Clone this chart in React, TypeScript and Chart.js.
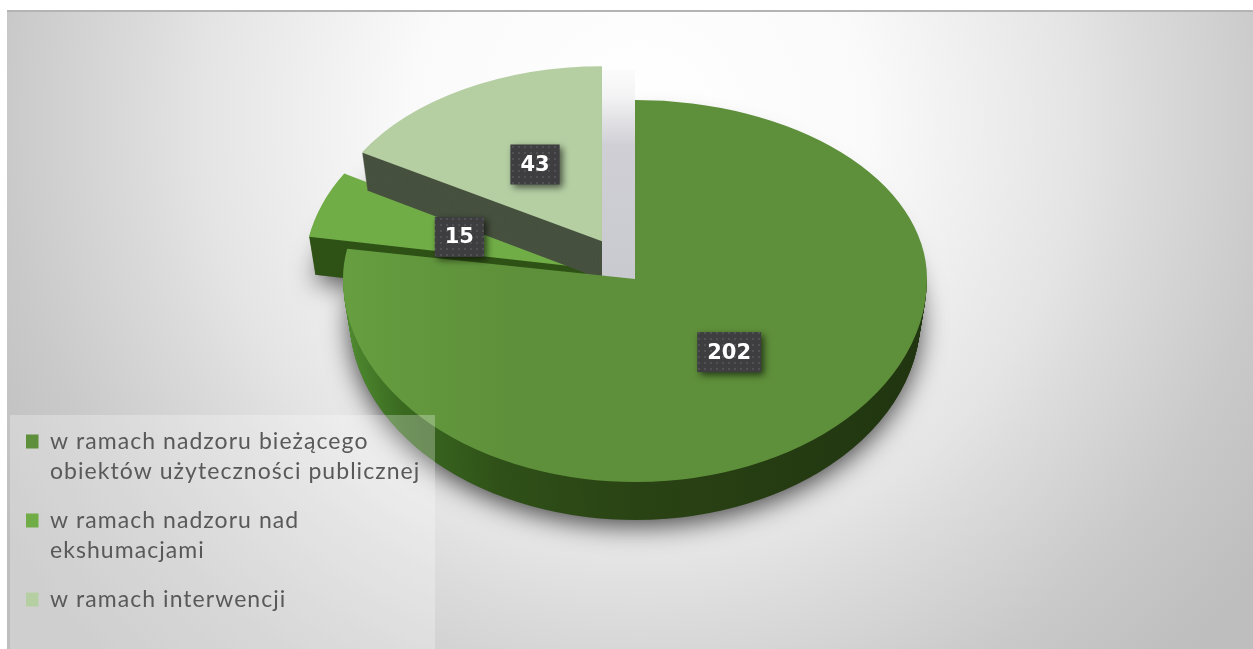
import React, { useEffect, useRef } from "react";
import { Chart, registerables } from "chart.js";

Chart.register(...registerables);

const categories = [
  ["w ramach nadzoru bieżącego", "obiektów użyteczności publicznej"],
  ["w ramach nadzoru nad", "ekshumacjami"],
  ["w ramach interwencji"],
];
const values = [202, 15, 43];
const topColors = ["#5e8f3a", "#70ad47", "#b5cfa3"];
const explode = [0, 48, 66.48];
const perspectiveX = [1, 0.976, 0.954];
const perspectiveY = [1, 0.976, 0.915];
const labelFraction = [0.5, 0.476, 0.462];
const paintOrder = [1, 2, 0];

const TILT = 0.655;
const KY_UP = 179 / 292;
const KY_LOW = 203 / 292;
const DEPTH = 38;
const SHRINK = 0.022;
const CX = 635;
const CY = 279;

function applySliceTransform(ctx: any, el: any, i: number, dy: number, ky: number) {
  const mid = (el.startAngle + el.endAngle) / 2;
  const vx = el.x + Math.cos(mid) * explode[i];
  const vy = el.y + Math.sin(mid) * explode[i];
  const sx = perspectiveX[i] * (1 - (SHRINK * dy) / DEPTH);
  ctx.translate(0, dy);
  ctx.translate(el.x, el.y);
  ctx.scale(1, ky);
  ctx.translate(-el.x, -el.y);
  ctx.translate(vx, vy);
  ctx.scale(sx, perspectiveY[i]);
  ctx.translate(-el.x, -el.y);
}

function wallStyle(ctx: any, i: number) {
  if (i === 1) return "#2f5216";
  if (i === 2) return "#47513f";
  const g = ctx.createLinearGradient(343, 0, 927, 0);
  g.addColorStop(0, "#4f8a30");
  g.addColorStop(0.1, "#3a6a20");
  g.addColorStop(0.27, "#2f5018");
  g.addColorStop(0.5, "#2a4314");
  g.addColorStop(1, "#203510");
  return g;
}

function drawSlice(ctx: any, el: any, i: number, dy: number) {
  if (i !== 0) {
    ctx.save();
    applySliceTransform(ctx, el, i, dy, TILT);
    el.draw(ctx);
    ctx.restore();
    return;
  }
  const seam = el.y + dy;
  if (dy === 0) {
    ctx.save();
    ctx.beginPath();
    ctx.rect(0, 0, 1253, seam);
    ctx.clip();
    applySliceTransform(ctx, el, i, dy, KY_UP);
    el.draw(ctx);
    ctx.restore();
  }
  ctx.save();
  ctx.beginPath();
  ctx.rect(0, seam, 1253, 649 - seam);
  ctx.clip();
  applySliceTransform(ctx, el, i, dy, KY_LOW);
  el.draw(ctx);
  ctx.restore();
}

const pie3dPlugin = {
  id: "pie3d",
  beforeLayout(chart: any) {
    const legend = chart.legend;
    legend._layers = () => [
      {
        z: 5,
        draw() {
          const ctx = chart.ctx;
          ctx.save();
          ctx.fillStyle = "rgba(255,255,255,0.27)";
          ctx.fillRect(10, 415, 425, 234);
          (ctx as any).letterSpacing = "1.05px";
          legend.draw();
          ctx.restore();
        },
      },
    ];
  },
  afterLayout(chart: any) {
    const a = chart.chartArea;
    a.left = CX - 400;
    a.right = CX + 400;
    a.top = CY - 400;
    a.bottom = CY + 400;
    a.width = 800;
    a.height = 800;
    const legend = chart.legend;
    legend.left = 7;
    legend.right = 435;
    legend.top = 411;
    legend.bottom = 649;
    legend.width = 428;
    legend.height = 238;
    legend.adjustHitBoxes();
  },
  beforeDraw(chart: any) {
    const ctx = chart.ctx;
    ctx.save();
    ctx.fillStyle = "#ffffff";
    ctx.fillRect(0, 0, 1253, 649);
    const g = ctx.createRadialGradient(640, 120, 0, 640, 120, 760);
    g.addColorStop(0, "#ffffff");
    g.addColorStop(0.3, "#fafafa");
    g.addColorStop(0.58, "#e4e4e4");
    g.addColorStop(0.65, "#dcdcdc");
    g.addColorStop(0.84, "#c9c9c9");
    g.addColorStop(1, "#bebebe");
    ctx.fillStyle = g;
    ctx.fillRect(7, 10, 1246, 639);
    ctx.fillStyle = "#b4b4b4";
    ctx.fillRect(7, 10, 1246, 2);
    ctx.restore();
  },
  beforeDatasetDraw(chart: any, args: any) {
    const ctx = chart.ctx;
    const els = args.meta.data;
    // soft floor shadow first
    paintOrder.forEach((i) => {
      const el = els[i];
      const saved = el.options;
      el.options = { ...saved, backgroundColor: "#777777" };
      ctx.save();
      ctx.shadowColor = "rgba(0,0,0,0.7)";
      ctx.shadowBlur = 26;
      ctx.shadowOffsetY = 6;
      applySliceTransform(ctx, el, i, DEPTH, i === 0 ? KY_LOW : TILT);
      el.draw(ctx);
      ctx.restore();
      el.options = saved;
    });
    // shaded gap between the pulled-out slice and the large slice
    const gapEl = els[2];
    const gapMid = (gapEl.startAngle + gapEl.endAngle) / 2;
    const gapLeft = gapEl.x + Math.cos(gapMid) * explode[2];
    const gap = ctx.createLinearGradient(0, 70, 0, 280);
    gap.addColorStop(0, "#fbfbfb");
    gap.addColorStop(0.12, "#f4f4f5");
    gap.addColorStop(0.36, "#cfcfd5");
    gap.addColorStop(1, "#c9c9d0");
    ctx.fillStyle = gap;
    ctx.fillRect(gapLeft, 70, gapEl.x - gapLeft, 212);

    paintOrder.forEach((i) => {
      const el = els[i];
      const saved = el.options;
      const wall = wallStyle(ctx, i);
      el.options = { ...saved, backgroundColor: wall };
      for (let d = DEPTH; d > 0; d -= 1) {
        drawSlice(ctx, el, i, d);
      }
      let top: any = saved.backgroundColor;
      if (i === 0) {
        top = ctx.createLinearGradient(343, 0, 927, 0);
        top.addColorStop(0, "#669e40");
        top.addColorStop(0.3, "#5e8f3a");
        top.addColorStop(1, "#5e8f3a");
      }
      el.options = { ...saved, backgroundColor: top };
      drawSlice(ctx, el, i, 0);
      el.options = saved;
    });
    return false;
  },
  afterDraw(chart: any) {
    const ctx = chart.ctx;
    const els = chart.getDatasetMeta(0).data;
    const tile = document.createElement("canvas");
    tile.width = 6;
    tile.height = 6;
    const t = tile.getContext("2d") as any;
    t.fillStyle = "#3e3e40";
    t.fillRect(0, 0, 6, 6);
    t.fillStyle = "#515155";
    t.fillRect(2, 2, 2, 2);
    const pattern = ctx.createPattern(tile, "repeat");
    ctx.save();
    ctx.font = "bold 21px 'DejaVu Sans'";
    ctx.textAlign = "center";
    ctx.textBaseline = "middle";
    els.forEach((el: any, i: number) => {
      const mid = (el.startAngle + el.endAngle) / 2;
      const r = el.outerRadius * labelFraction[i] + explode[i];
      const x = el.x + Math.cos(mid) * r;
      const y = el.y + Math.sin(mid) * r * TILT;
      const text = String(values[i]);
      const w = ctx.measureText(text).width + 20;
      const h = 40;
      ctx.save();
      ctx.shadowColor = "rgba(0,0,0,0.6)";
      ctx.shadowBlur = 7;
      ctx.shadowOffsetX = 3;
      ctx.shadowOffsetY = 3;
      ctx.fillStyle = pattern;
      ctx.fillRect(x - w / 2, y - h / 2, w, h);
      ctx.restore();
      ctx.fillStyle = "#ffffff";
      ctx.fillText(text, x, y + 1);
    });
    ctx.restore();
  },
};

export default function App() {
  const ref = useRef<HTMLCanvasElement | null>(null);
  useEffect(() => {
    const chart = new Chart(ref.current as any, {
      type: "pie",
      data: {
        labels: categories as any,
        datasets: [
          {
            data: values,
            backgroundColor: topColors,
            borderWidth: 0,
          },
        ],
      },
      options: {
        animation: false,
        responsive: false,
        radius: 292,
        events: [],
        layout: { padding: 0 },
        plugins: {
          tooltip: { enabled: false },
          title: { display: false },
          legend: {
            display: true,
            position: "left",
            align: "start",
            labels: {
              boxWidth: 12.5,
              boxHeight: 14,
              padding: 19,
              color: "#595959",
              font: { family: "Lato", size: 23, lineHeight: 30 / 23 },
            },
          },
        },
      } as any,
      plugins: [pie3dPlugin as any],
    });
    return () => chart.destroy();
  }, []);
  return (
    <div style={{ position: "absolute", left: 0, top: 0, width: 1253, height: 649, overflow: "hidden" }}>
      <canvas ref={ref} width={1253} height={649} style={{ display: "block" }} />
    </div>
  );
}
